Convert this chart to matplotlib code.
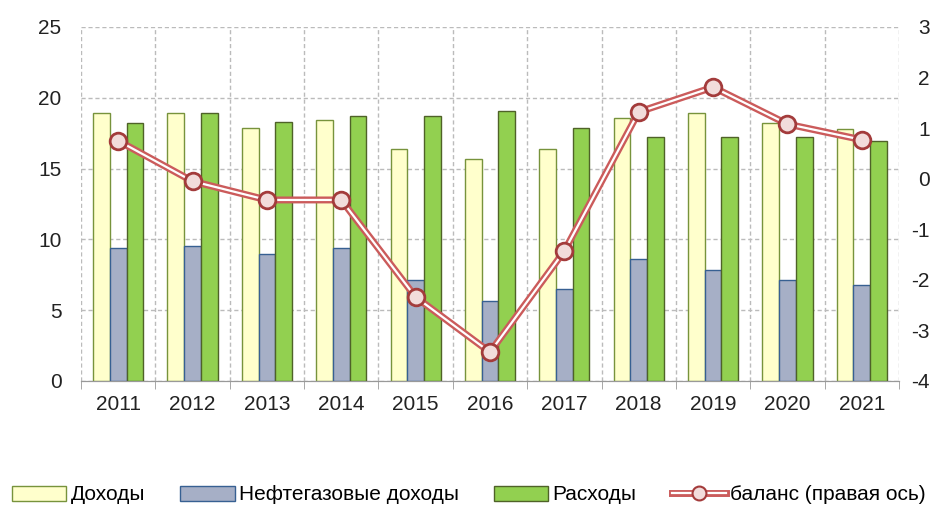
import numpy as np
import matplotlib.pyplot as plt
from matplotlib.patches import Patch
from matplotlib.lines import Line2D
from matplotlib.legend_handler import HandlerTuple

plt.rcParams['font.family'] = ['Liberation Sans', 'DejaVu Sans']
plt.rcParams['axes.unicode_minus'] = False

annees = ['2011', '2012', '2013', '2014', '2015', '2016', '2017', '2018', '2019', '2020', '2021']
dohody = [18.9, 18.9, 17.9, 18.4, 16.4, 15.7, 16.4, 18.6, 18.9, 18.2, 17.8]
neftegaz = [9.4, 9.5, 9.0, 9.4, 7.1, 5.65, 6.5, 8.6, 7.85, 7.1, 6.8]
rashody = [18.2, 18.9, 18.3, 18.7, 18.7, 19.1, 17.9, 17.2, 17.2, 17.2, 16.95]
balans = [0.75, -0.05, -0.42, -0.42, -2.34, -3.43, -1.43, 1.32, 1.81, 1.08, 0.77]

c_dohody = '#FFFFCC'
c_neft = '#A6AFC6'
c_rash = '#92D050'
c_line = '#CB5B5B'

fig = plt.figure(figsize=(9.38, 5.07), dpi=100)
ax = fig.add_axes([81 / 938, 1 - 381 / 507, (899 - 81) / 938, (381 - 27) / 507])
ax2 = ax.twinx()

x = np.arange(len(annees))
w = 0.225
ax.bar(x - w, dohody, w, color=c_dohody, edgecolor='#77933C', linewidth=1, zorder=3)
ax.bar(x, neftegaz, w, color=c_neft, edgecolor='#376092', linewidth=1, zorder=3)
ax.bar(x + w, rashody, w, color=c_rash, edgecolor='#4F6228', linewidth=1, zorder=3)

# ligne double (rouge + blanc) pour le solde
ax2.plot(x, balans, color=c_line, linewidth=5, solid_joinstyle='round', zorder=4)
ax2.plot(x, balans, color='white', linewidth=1.6, zorder=5)
ax2.plot(x, balans, linestyle='none', marker='o', markersize=12, markerfacecolor='#F2DCDB',
         markeredgecolor='#A33B3B', markeredgewidth=2, zorder=6)

ax.set_xlim(-0.5, len(annees) - 0.5)
ax.set_ylim(0, 25)
ax.set_yticks(range(0, 26, 5))
ax2.set_ylim(-4, 3)
ax2.set_yticks(range(-4, 4))

ax.set_xticks(x)
ax.set_xticklabels(annees)
ax.set_xticks(np.arange(-0.5, len(annees), 1), minor=True)
ax.tick_params(axis='x', which='major', length=0, labelsize=15, pad=10, colors='#222222')
ax.tick_params(axis='x', which='minor', length=6, color='#999999', direction='out')
ax.tick_params(axis='y', length=0, labelsize=15, pad=14, colors='#222222')
ax2.tick_params(axis='y', length=0, labelsize=15, pad=22, colors='#222222')
for lab in ax2.get_yticklabels():
    lab.set_horizontalalignment('right')

ax.set_axisbelow(True)
ax.grid(True, axis='y', linestyle=(0, (3, 2)), color='#BBBBBB', linewidth=1)
ax.grid(True, axis='x', which='minor', linestyle=(0, (3, 2)), color='#BBBBBB', linewidth=1)

for a in (ax, ax2):
    for s in ('left', 'right', 'top'):
        a.spines[s].set_visible(False)
    a.spines['bottom'].set_color('#999999')

# légende en bas
h1 = Patch(facecolor=c_dohody, edgecolor='#77933C')
h2 = Patch(facecolor=c_neft, edgecolor='#376092')
h3 = Patch(facecolor=c_rash, edgecolor='#4F6228')
l_out = Line2D([], [], color=c_line, linewidth=5)
l_in = Line2D([], [], color='white', linewidth=1.6)
l_mk = Line2D([], [], linestyle='none', marker='o', markersize=10, markerfacecolor='#F2DCDB',
              markeredgecolor='#A33B3B', markeredgewidth=1.5)
fig.legend([h1, h2, h3, (l_out, l_in, l_mk)],
           ['Доходы', 'Нефтегазовые доходы', 'Расходы', 'баланс (правая ось)'],
           handler_map={tuple: HandlerTuple(ndivide=1, pad=0)},
           loc='center', bbox_to_anchor=(0.5, 1 - 495 / 507), ncol=4, frameon=False,
           fontsize=15, handlelength=2.6, handleheight=0.7, handletextpad=0.2,
           columnspacing=1.7, borderpad=0, borderaxespad=0)

plt.savefig('out.png', dpi=100)
